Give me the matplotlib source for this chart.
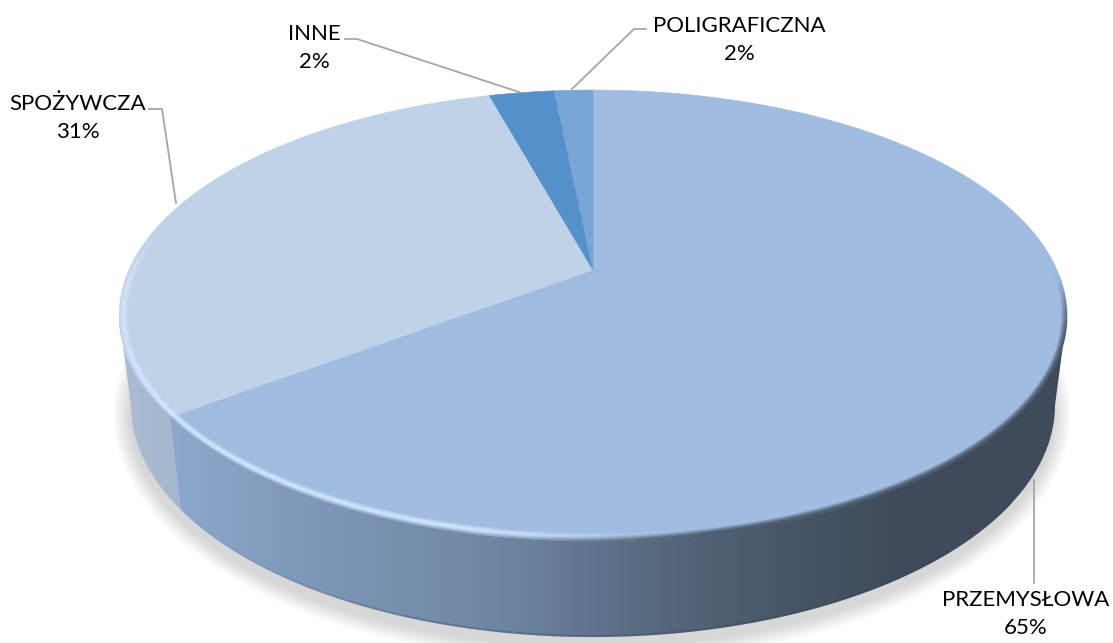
import numpy as np
import matplotlib
matplotlib.use('Agg')
from matplotlib import pyplot as plt
from matplotlib.collections import LineCollection
from matplotlib.colors import LinearSegmentedColormap, to_rgb
from matplotlib.patches import Ellipse
from matplotlib.path import Path
from matplotlib.transforms import Transform

categories = ['PRZEMYSŁOWA', 'SPOŻYWCZA', 'INNE', 'POLIGRAFICZNA']
values = [64.8, 30.9, 2.7, 1.6]
share_labels = ['65%', '31%', '2%', '2%']
face_colors = ['#A0BCE0', '#C0D2E8', '#5490C9', '#79A5D6']

W, H = 1113, 643

# top disc seen in perspective (pixels)
APEX_X, APEX_Y = 593, 270
K = 0.2018
A = 464.0
B = -161.8
TOP_RX, TOP_RY, TOP_CY = 474.0, 225.5, 315.5
BOT_RX, BOT_RY, BOT_CY = 462.0, 232.0, 405.0


def project(x, y):
    w = 1 + K * y
    return APEX_X + A * x / w, (APEX_Y + B * y) / w


class DiscTransform(Transform):
    input_dims = 2
    output_dims = 2
    is_separable = False

    def transform_non_affine(self, values):
        values = np.asarray(values, dtype=float)
        px, py = project(values[:, 0], values[:, 1])
        return np.column_stack([px, py])

    def transform_path_non_affine(self, path):
        # sample the curves, a projective map does not keep beziers
        pts = []
        for curve, code in path.iter_bezier():
            if code == Path.MOVETO:
                pts.append(curve(np.array([0.0])))
            else:
                pts.append(curve(np.linspace(0, 1, 40)[1:]))
        return Path(self.transform_non_affine(np.vstack(pts)))


def rim_param(fraction):
    # ellipse parameter (deg) of the rim point at a cumulative pie fraction
    theta = 2 * np.pi * fraction
    px, py = project(np.sin(theta), np.cos(theta))
    return np.degrees(np.arctan2((py - TOP_CY) / TOP_RY, (px - APEX_X) / TOP_RX)) % 360


def wall_path(t0, t1):
    t = np.radians(np.linspace(t0, t1, 200))
    top = np.column_stack([APEX_X + TOP_RX * np.cos(t), TOP_CY + TOP_RY * np.sin(t)])
    bot = np.column_stack([APEX_X + BOT_RX * np.cos(t), BOT_CY + BOT_RY * np.sin(t)])
    return Path(np.vstack([top, bot[::-1], top[:1]]))


def smooth(edge0, edge1, x):
    u = np.clip((x - edge0) / (edge1 - edge0), 0, 1)
    return u * u * (3 - 2 * u)


fig = plt.figure(figsize=(W / 100, H / 100), dpi=100)
ax = fig.add_axes([0, 0, 1, 1])
plt.rcParams['font.family'] = ['Lato', 'DejaVu Sans']

# soft shadow under the pie
for i in range(20):
    grow = (20 - i) * 0.85
    ax.add_patch(Ellipse((APEX_X - 1, BOT_CY + 9), 2 * (BOT_RX + grow), 2 * (BOT_RY + grow),
                         fc='black', ec='none', alpha=0.0075, zorder=1))

# side wall
boundary = rim_param(values[0] / 100)
main_ramp = LinearSegmentedColormap.from_list('main', [
    (0.0, '#8CA8CC'), (0.15, '#7F98B8'), (0.36, '#6F87A4'), (0.5, '#5C6E86'),
    (0.68, '#485668'), (0.8, '#404C5B'), (1.0, '#3F4B5A')])
side_ramp = LinearSegmentedColormap.from_list('side', ['#ABBDD4', '#A4B7CD'])

x_grad = np.linspace(0, 1, 512).reshape(1, -1)
im = ax.imshow(x_grad, cmap=main_ramp, extent=(170, 1070, H, 0), aspect='auto', zorder=2,
               interpolation='bilinear')
im.set_clip_path(wall_path(0, boundary), ax.transData)
im = ax.imshow(x_grad, cmap=side_ramp, extent=(115, 190, H, 0), aspect='auto', zorder=2,
               interpolation='bilinear')
im.set_clip_path(wall_path(boundary, 180), ax.transData)

# darker line along the foot of the wall, fading out to the left
foot_deg = np.linspace(25, 150, 300)
foot_t = np.radians(foot_deg)
foot = np.column_stack([APEX_X + (BOT_RX - 0.5) * np.cos(foot_t), BOT_CY + (BOT_RY - 1) * np.sin(foot_t)])
foot_mid = 0.5 * (foot_deg[:-1] + foot_deg[1:])
foot_rgba = np.tile(to_rgb('#33415A') + (0.0,), (len(foot_mid), 1))
foot_rgba[:, 3] = 0.28 * (1 - smooth(105, 150, foot_mid))
ax.add_collection(LineCollection(np.stack([foot[:-1], foot[1:]], axis=1), colors=foot_rgba,
                                 linewidths=1.6, zorder=3, capstyle='butt'))

# top face
wedges, _ = ax.pie(values, colors=face_colors, startangle=90, counterclock=False, radius=1)
disc = DiscTransform()
for wedge, color in zip(wedges, face_colors):
    wedge.set_transform(disc + ax.transData)
    wedge.set_edgecolor(color)
    wedge.set_linewidth(0.4)
    wedge.set_zorder(4)

# bevel on the front of the rim
t_deg = np.linspace(-25, 235, 520)
t_mid = 0.5 * (t_deg[:-1] + t_deg[1:])
light = smooth(72, 112, t_mid) * (1 - smooth(182, 206, t_mid))
edge = smooth(72, 112, t_mid) * (1 - smooth(140, 172, t_mid))
dark = smooth(-12, 8, t_mid) * (1 - smooth(72, 105, t_mid))
light_rgb = to_rgb('#D4E6FF')
dark_rgb = to_rgb('#3F4B5A')
edge_rgb = to_rgb('#8099BC')
for d in np.arange(0, 11.1, 0.5):
    tr = np.radians(t_deg)
    ring = np.column_stack([APEX_X + (TOP_RX - d) * np.cos(tr), TOP_CY + (TOP_RY - d) * np.sin(tr)])
    segs = np.stack([ring[:-1], ring[1:]], axis=1)
    a_light = light * np.exp(-((d - 4.5) / 2.6) ** 2)
    a_edge = edge * np.clip(1 - d / 3.0, 0, 1) * 0.7
    a_dark = dark * np.clip(1 - d / 6.0, 0, 1)
    rgba = np.zeros((len(segs), 4))
    alpha = np.clip(a_light + a_edge + a_dark, 0, 1)
    for c in range(3):
        rgba[:, c] = (a_light * light_rgb[c] + a_edge * edge_rgb[c] + a_dark * dark_rgb[c]) / np.maximum(
            a_light + a_edge + a_dark, 1e-6)
    rgba[:, 3] = alpha * 0.8
    ax.add_collection(LineCollection(segs, colors=rgba, linewidths=0.72, zorder=5, capstyle='butt'))

# leader lines
leaders = [
    ([1034, 1034], [480, 583]),
    ([149, 162, 176], [109, 109, 203]),
    ([345, 357, 519], [39, 39, 92]),
    ([646, 634, 572], [29, 29, 89]),
]
for lx, ly in leaders:
    ax.plot(lx, ly, color='#A6A6A6', lw=1.3, zorder=6, solid_joinstyle='miter')

# data labels
label_pos = [(1026, 614), (78, 118), (314, 48), (739, 40)]
for name, share, (lx, ly) in zip(categories, share_labels, label_pos):
    ax.text(lx, ly, f'{name}\n{share}', ha='center', va='center', fontsize=16, color='black',
            linespacing=1.52, zorder=7)

ax.set_aspect('auto')
ax.set_xlim(0, W)
ax.set_ylim(H, 0)
ax.set_xticks([])
ax.set_yticks([])
ax.set_frame_on(False)

fig.savefig('out.png', dpi=100, facecolor='white')
